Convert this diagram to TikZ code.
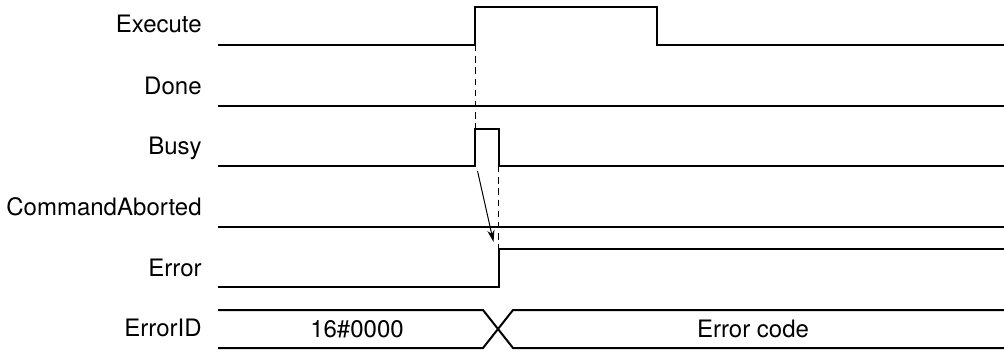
\documentclass[tikz,border=0pt]{standalone}
\usepackage{fontspec}
\setmainfont{TeX Gyre Heros}
\usetikzlibrary{arrows.meta}
\begin{document}
\begin{tikzpicture}[x=0.5pt,y=-0.5pt,>={Stealth[length=6pt,width=3.6pt]},
  sig/.style={line width=1pt,line join=miter},
  guide/.style={line width=0.5pt,dash pattern=on 3.2pt off 2.4pt},
  every node/.style={font=\fontsize{12}{14}\selectfont,inner sep=0pt}]
 \useasboundingbox (0,0) rectangle (1004,352);
 % signal names
 \node[anchor=base east] (nExe)  at (202,33)  {Execute};
 \node[anchor=base east] (nDone) at (202,95)  {Done};
 \node[anchor=base east] (nBusy) at (202,155) {Busy};
 \node[anchor=base east] (nAbt)  at (202,215) {CommandAborted};
 \node[anchor=base east] (nErr)  at (202,276) {Error};
 \node[anchor=base east] (nEid)  at (202,336) {ErrorID};
 % edges
 \coordinate (exeUp)   at (475,45);
 \coordinate (busyUp)  at (475,129);
 \coordinate (busyDn)  at (498.5,166);
 \coordinate (errUp)   at (498.5,249);
 \coordinate (arrFrom) at (477.5,171);
 \coordinate (arrTo)   at (493.5,242);
 % waveforms
 \draw[sig] (218,45) -- (exeUp) -- (475,7) -- (657,7) -- (657,45) -- (1004,45);
 \draw[sig] (218,106) -- (1004,106);
 \draw[sig] (218,166) -- (475,166) -- (busyUp) -- (498.5,129) -- (busyDn) -- (1004,166);
 \draw[sig] (218,227) -- (1004,227);
 \draw[sig] (218,287) -- (498.5,287) -- (errUp) -- (1004,249);
 \draw[sig] (218,310) -- (483,310) -- (513,348) -- (1004,348);
 \draw[sig] (218,348) -- (483,348) -- (513,310) -- (1004,310);
 \node[anchor=base] (vOld) at (357,337) {16\#0000};
 \node[anchor=base] (vNew) at (753,337) {Error code};
 % timing
 \draw[guide] (exeUp) -- (busyUp);
 \draw[guide] (busyDn) -- (errUp);
 \draw[->,line width=0.5pt] (arrFrom) -- (arrTo);
\end{tikzpicture}
\end{document}
